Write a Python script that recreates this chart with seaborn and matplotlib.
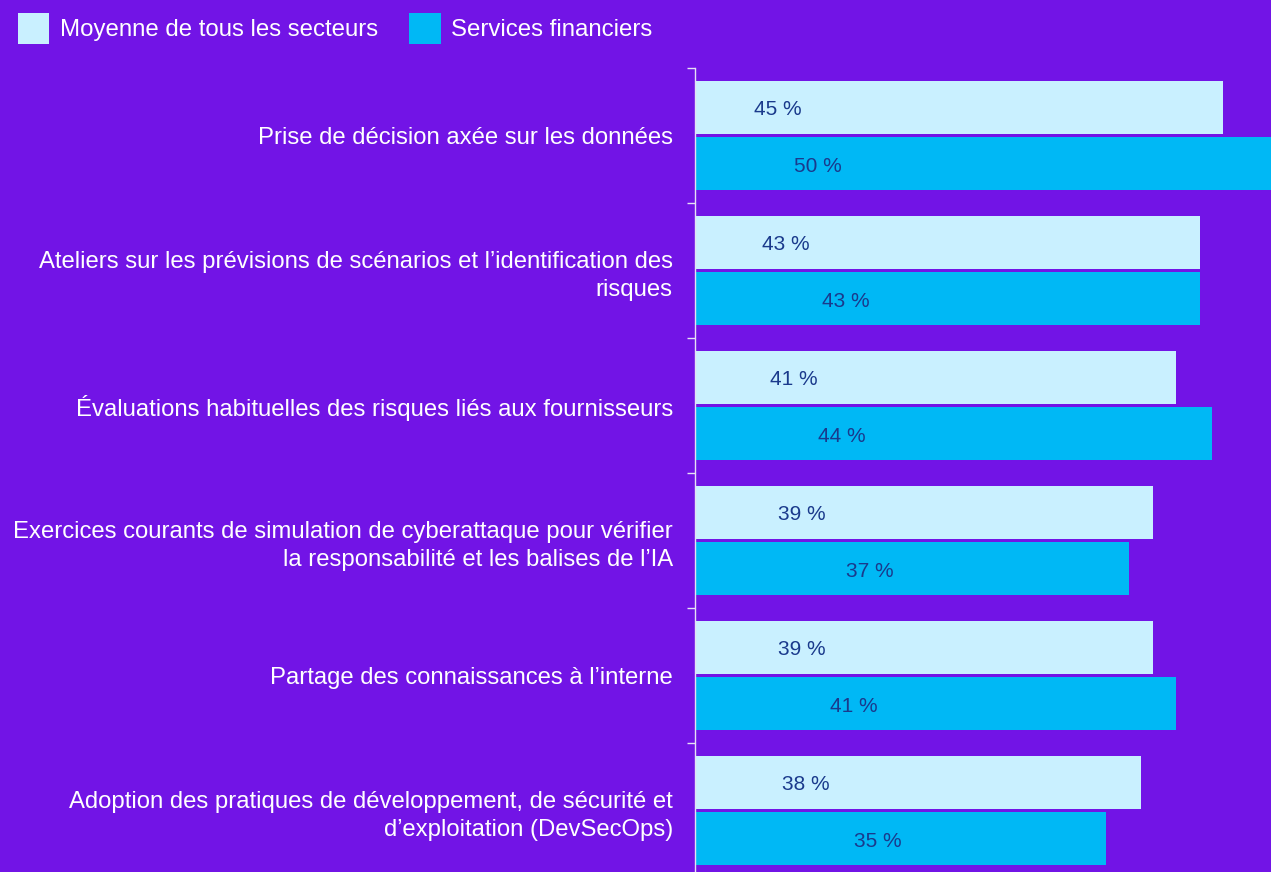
import matplotlib
matplotlib.use("Agg")
import matplotlib.pyplot as plt
import seaborn as sns
import pandas as pd
from matplotlib.patches import Patch
from matplotlib.ticker import FixedLocator

categories = [
    "Prise de décision axée sur les données",
    "Ateliers sur les prévisions de scénarios et l’identification des\nrisques",
    "Évaluations habituelles des risques liés aux fournisseurs",
    "Exercices courants de simulation de cyberattaque pour vérifier\nla responsabilité et les balises de l’IA",
    "Partage des connaissances à l’interne",
    "Adoption des pratiques de développement, de sécurité et\nd’exploitation (DevSecOps)",
]
series_names = ["Moyenne de tous les secteurs", "Services financiers"]
avg_all = [45, 43, 41, 39, 39, 38]
financial = [50, 43, 44, 37, 41, 35]

BG = "#7214E6"
C_LIGHT = "#C9F0FF"
C_DARK = "#00B8F5"
LABEL_C = "#1A3A8C"

sns.set_theme(style="white")
plt.rcParams["font.family"] = ["Liberation Sans", "DejaVu Sans"]

df = pd.DataFrame({
    "cat": categories * 2,
    "val": avg_all + financial,
    "series": [series_names[0]] * len(categories) + [series_names[1]] * len(categories),
})

W, H = 1271, 872
fig = plt.figure(figsize=(W / 100, H / 100), dpi=100, facecolor=BG)
ax = fig.add_axes([695 / W, -6 / H, (W - 695) / W, 810 / H])
ax.set_facecolor(BG)

sns.barplot(data=df, y="cat", x="val", hue="series", orient="h",
            palette=[C_LIGHT, C_DARK], saturation=1, width=0.84, gap=0.07,
            linewidth=0, legend=False, ax=ax)

px_per_unit = 11.74
ax.set_xlim(0, (W - 695) / px_per_unit)
ax.set_ylim(len(categories) - 0.5, -0.5)

# value labels
for i, (a, f) in enumerate(zip(avg_all, financial)):
    xa = 7.07 + 0.34 * (45 - a)
    xf = 10.48 + 0.34 * (50 - f)
    ax.text(xa, i - 0.205, f"{a} %", ha="center", va="center_baseline",
            fontsize=15, color=LABEL_C)
    ax.text(xf, i + 0.215, f"{f} %", ha="center", va="center_baseline",
            fontsize=15, color=LABEL_C)

for s in ["top", "right", "bottom"]:
    ax.spines[s].set_visible(False)
ax.spines["left"].set_color("#E6E0F5")
ax.spines["left"].set_linewidth(1.0)

ax.set_xticks([])
ax.set_xlabel("")
ax.set_ylabel("")
ax.tick_params(axis="y", which="major", length=0, pad=16, labelsize=17.2,
               labelcolor="white")
ax.yaxis.set_minor_locator(FixedLocator([i - 0.5 for i in range(len(categories) + 1)]))
ax.tick_params(axis="y", which="minor", length=5.5, width=1.0, color="#E6E0F5", left=True)
for lab in ax.get_yticklabels():
    lab.set_horizontalalignment("right")
    lab.set_multialignment("right")
    lab.set_linespacing(1.38)

handles = [Patch(facecolor=C_LIGHT, edgecolor="none"),
           Patch(facecolor=C_DARK, edgecolor="none")]
fig.legend(handles, series_names, loc="upper left",
           bbox_to_anchor=(18 / W, 1 - 13 / H), ncol=2, frameon=False,
           fontsize=17.3, labelcolor="white", handlelength=1.3,
           handleheight=1.6, handletextpad=0.45, columnspacing=1.3,
           borderpad=0, borderaxespad=0)

fig.savefig("out.png", dpi=100, facecolor=BG)
